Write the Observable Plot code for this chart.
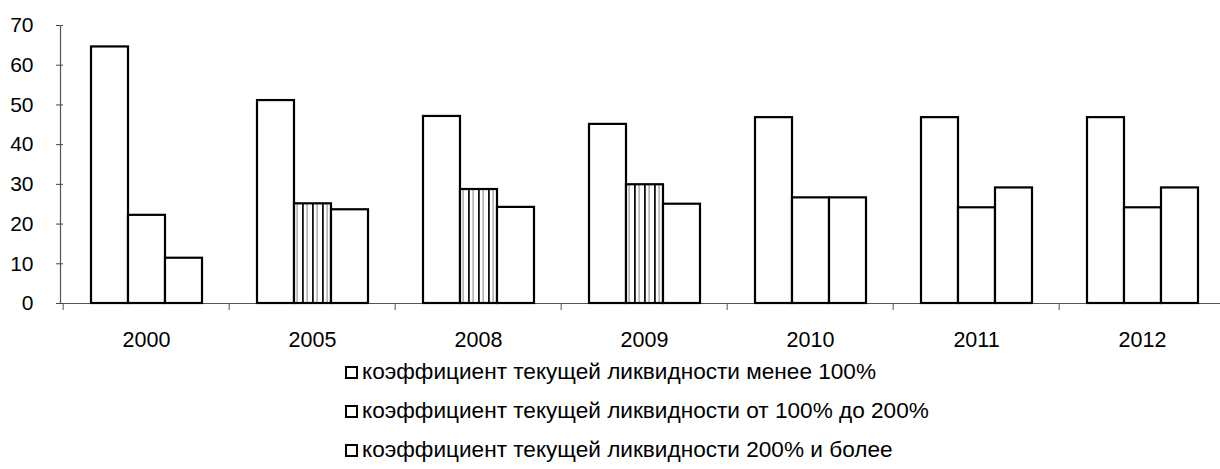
<!DOCTYPE html>
<html>
<head>
<meta charset="utf-8">
<script src="https://cdn.jsdelivr.net/npm/d3@7"></script>
<script src="https://cdn.jsdelivr.net/npm/@observablehq/plot@0.6"></script>
<style>
  html, body { margin: 0; padding: 0; background: #fff; overflow: hidden; width: 1220px; height: 469px; }
  #chart { position: relative; width: 1227px; }
  .legend { position: absolute; left: 345px; top: 0; font-family: "Liberation Sans", Arial, sans-serif; font-size: 22.6px; color: #000; }
  .legend .row { position: absolute; white-space: nowrap; display: flex; align-items: center; height: 24px; }
  .legend .sw { width: 9px; height: 9px; border: 2px solid #000; background: #fff; margin-right: 4px; }
</style>
</head>
<body>
<div id="chart"></div>
<script>
const years = ["2000", "2005", "2008", "2009", "2010", "2011", "2012"];
const seriesNames = [
  "коэффициент текущей ликвидности менее 100%",
  "коэффициент текущей ликвидности от 100% до 200%",
  "коэффициент текущей ликвидности 200% и более"
];
const below100 = [64.6, 51.1, 47.1, 45.1, 46.8, 46.8, 46.8];
const from100to200 = [22.2, 25.1, 28.7, 29.9, 26.6, 24.1, 24.1];
const above200 = [11.4, 23.6, 24.2, 25.0, 26.6, 29.1, 29.1];
const stripedYears = ["2005", "2008", "2009"];
const yTicks = [0, 10, 20, 30, 40, 50, 60, 70];

const seriesValues = [below100, from100to200, above200];
const data = [];
years.forEach((yr, i) => {
  seriesValues.forEach((vals, s) => {
    data.push({ year: yr, series: seriesNames[s], value: vals[i], striped: s === 1 && stripedYears.includes(yr) });
  });
});

const W = 1227, ML = 60, MR = 0, MT = 25, MB = 49, H = 352;
const step = (W - ML - MR) / years.length;
const font = "Liberation Sans, Arial, sans-serif";

const plot = Plot.plot({
  width: W,
  height: H,
  marginLeft: ML,
  marginRight: MR,
  marginTop: MT,
  marginBottom: MB,
  style: { fontFamily: font, fontSize: "21px", color: "#000", background: "#fff" },
  fx: { domain: years, padding: 0, label: null },
  x: { domain: seriesNames, paddingInner: 0, paddingOuter: 0.7225, axis: null },
  y: { domain: [0, 70], label: null },
  marks: [
    Plot.ruleY([0], { stroke: "#555", strokeWidth: 1.2 }),
    Plot.barY(data, {
      fx: "year", x: "series", y: "value",
      fill: d => d.striped ? "url(#stripes)" : "#fff",
      stroke: "#000", strokeWidth: 2.2, inset: 0
    }),
    Plot.axisY({ ticks: yTicks, tickSize: 7, tickPadding: 23, fontSize: 21, stroke: "#444", label: null }),
    Plot.axisFx({ anchor: "bottom", tickSize: 0, tickPadding: 28, fontSize: 21.5, label: null }),
    Plot.axisFx({ anchor: "bottom", tickSize: 7, tickFormat: () => "", dx: -step / 2, label: null, stroke: "#555" })
  ]
});

const yScale = plot.scale("y");
const svg = d3.select(plot);
svg.insert("defs", ":first-child").html(`
  <pattern id="stripes" patternUnits="userSpaceOnUse" width="10" height="10">
    <rect width="10" height="10" fill="#fff"/>
    <rect x="3" width="1.8" height="10" fill="#111"/>
    <rect x="7.5" width="1.2" height="10" fill="#999"/>
  </pattern>`);
// y axis line, positioned through the y scale
svg.append("line")
  .attr("x1", ML + 0.5).attr("x2", ML + 0.5)
  .attr("y1", yScale.apply(yTicks[yTicks.length - 1]))
  .attr("y2", yScale.apply(0))
  .attr("stroke", "#555").attr("stroke-width", 1.2);

const chart = document.getElementById("chart");
chart.appendChild(plot);

const legend = document.createElement("div");
legend.className = "legend";
const rowCenters = [372, 411, 450];
seriesNames.forEach((name, i) => {
  const row = document.createElement("div");
  row.className = "row";
  row.style.top = (rowCenters[i] - 12) + "px";
  const sw = document.createElement("div");
  sw.className = "sw";
  const t = document.createElement("span");
  t.textContent = name;
  row.appendChild(sw);
  row.appendChild(t);
  legend.appendChild(row);
});
chart.appendChild(legend);
</script>
</body>
</html>
